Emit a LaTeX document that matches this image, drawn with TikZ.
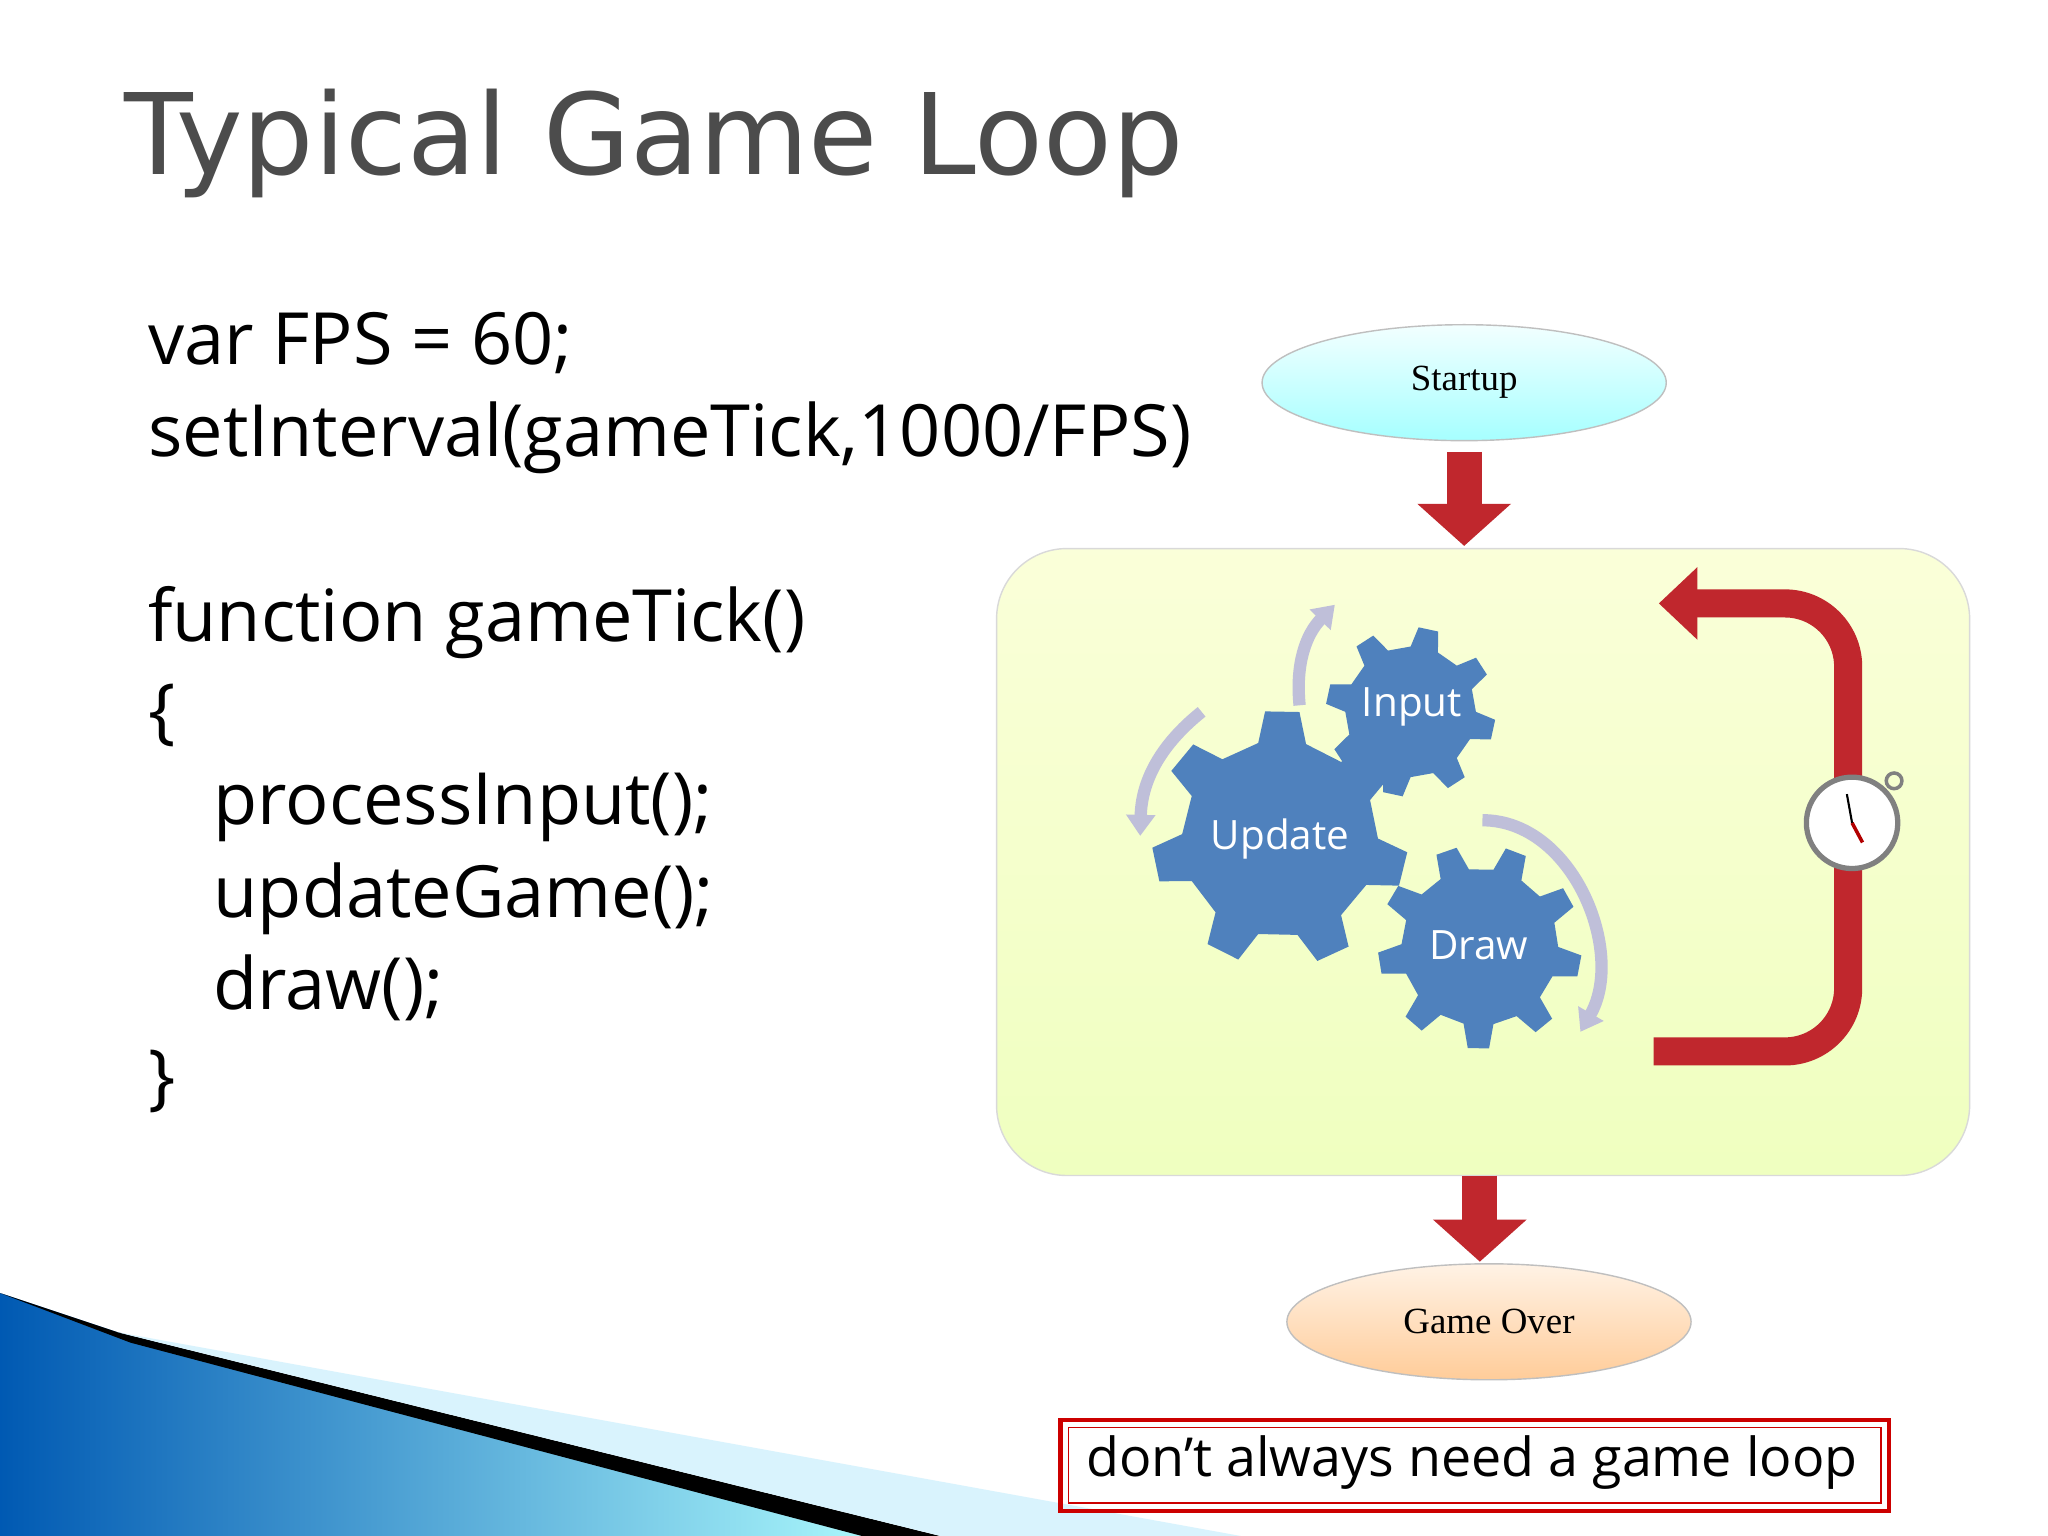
\documentclass[tikz,border=0pt]{standalone}
\usepackage{fontspec}
\setmainfont{Open Sans}
\newfontfamily\titlefont{DejaVu Sans}
\newfontfamily\seriffont{Liberation Serif}
\usetikzlibrary{arrows.meta,shapes.geometric,calc}
\definecolor{gearblue}{HTML}{4F81BD}
\definecolor{loopred}{HTML}{C0272D}
\tikzset{
  codeline/.style={anchor=west,inner sep=0pt,font=\fontsize{20.5}{24}\selectfont},
  gearlbl/.style={text=white,font=\fontsize{11.5}{13}\selectfont},
  ell/.style={ellipse,minimum width=115pt,minimum height=33pt,draw=black!25,font=\seriffont\fontsize{10.5}{12}\selectfont},
  blockarrow/.style={loopred,line width=10pt,-{Triangle[length=12pt,width=26pt]}},
  swirl/.style={blue!25!gray!40,line width=3.5pt,-{Triangle[length=6pt,width=8pt]}}
}
\newcommand{\mygear}[5]{% x y rin rout n
  \begin{scope}[shift={(#1,#2)}]
  \pgfmathsetmacro{\s}{360/#5}
  \fill[gearblue] (0:#3) \foreach \i in {1,...,#5} {
     -- ({(\i-1)*\s+0.12*\s}:#4) -- ({(\i-1)*\s+0.42*\s}:#4)
     -- ({(\i-1)*\s+0.55*\s}:#3) -- ({\i*\s}:#3)} -- cycle;
  \end{scope}}
\begin{document}
\begin{tikzpicture}[x=0.01306cm,y=-0.01306cm]
\useasboundingbox (0,0) rectangle (1568,1176);
\fill[white] (0,0) rectangle (1568,1176);
% bottom-left decoration
\shade[left color=blue!50!cyan!70!black,right color=cyan!30] (0,990) -- (90,1020) -- (700,1176) -- (0,1176) -- cycle;
\fill[black] (0,990) -- (90,1020) -- (720,1176) -- (660,1176) -- (100,1028) -- cycle;
\fill[cyan!15] (90,1020) -- (950,1176) -- (720,1176) -- cycle;
% title
\node[anchor=west,inner sep=0pt,text=black!70,font=\titlefont\fontsize{32}{36}\selectfont] (title) at (95,110) {Typical Game Loop};
% code
\node[codeline] (c1) at (113,263) {var FPS = 60;};
\node[codeline] (c2) at (113,335) {setInterval(gameTick,1000/FPS)};
\node[codeline] (c3) at (113,477) {function gameTick()};
\node[codeline] (c4) at (113,548) {\{};
\node[codeline] (c5) at (163,618) {processInput();};
\node[codeline] (c6) at (163,688) {updateGame();};
\node[codeline] (c7) at (163,756) {draw();};
\node[codeline] (c8) at (113,828) {\}};
% loop box
\shade[rounded corners=20pt,top color=green!12!yellow!15,bottom color=green!25!yellow!25,draw=black!15] (763,420) rectangle (1508,900);
\coordinate (boxtop) at (1121,418);
\coordinate (boxbot) at (1133,900);
\coordinate (overtop) at (1133,966);
% ellipses
\node[ell,top color=cyan!5,bottom color=cyan!35] (start) at (1121,293) {Startup};
\node[ell,top color=orange!10,bottom color=orange!40] (over) at (1140,1012) {Game Over};
\draw[blockarrow] ($(start.south)+(0,8)$) -- (boxtop);
\draw[blockarrow] (boxbot) -- (overtop);
% loop arrow
\draw[loopred,line width=8pt,-{Triangle[length=11pt,width=20pt]},rounded corners=18pt] (1266,805) -- (1415,805) -- (1415,462) -- (1270,462);
% clock
\node[circle,draw=black!50,line width=1.5pt,fill=white,minimum size=26pt] (clock) at (1418,630) {};
\draw[black!50,line width=1pt] ($(clock.north east)+(6,-6)$) circle (6);
\draw[red!70!black,line width=1pt] (clock.center) -- ++(8,15);
\draw[black,line width=0.6pt] (clock.center) -- ++(-4,-22);
% gears
\mygear{1080}{545}{50}{65}{8}
\mygear{980}{642}{75}{98}{7}
\mygear{1133}{725}{60}{78}{9}
\node[gearlbl] (input) at (1081,541) {Input};
\node[gearlbl] (update) at (980,642) {Update};
\node[gearlbl] (draw) at (1132,724) {Draw};
% swirls
\draw[swirl] (995,540) to[bend left=25] (1022,463);
\draw[swirl] (920,545) to[bend right=25] (873,640);
\draw[swirl] (1135,628) to[out=0,in=60,looseness=1] (1210,790);
% note box
\draw[red!80!black,line width=1.2pt] (812,1087) rectangle (1446,1157);
\draw[red!80!black,line width=0.5pt] (818,1093) rectangle (1440,1151);
\node[font=\fontsize{15.3}{18}\selectfont] (note) at (1127,1120) {don’t always need a game loop};
\end{tikzpicture}
\end{document}
